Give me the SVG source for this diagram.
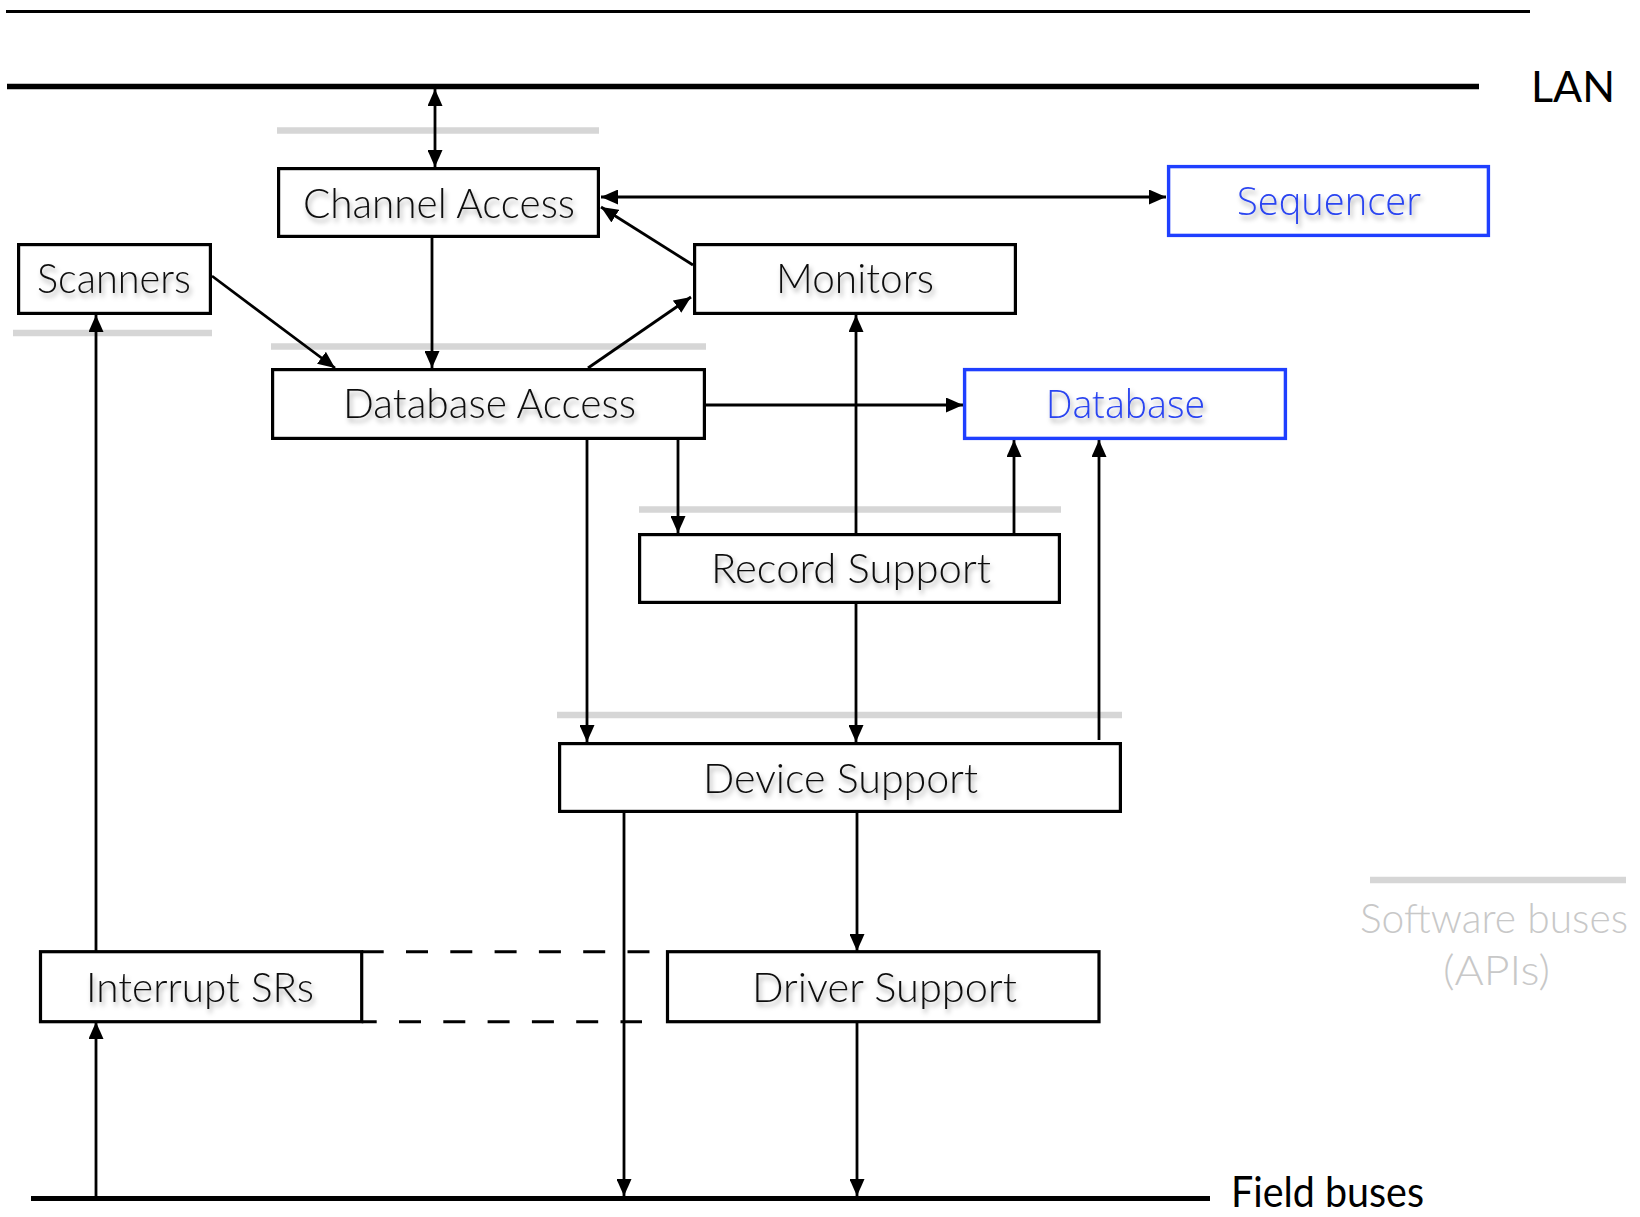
<svg xmlns="http://www.w3.org/2000/svg" width="1640" height="1217" viewBox="0 0 1640 1217">
<style>
.box{fill:#fff;stroke:#000;stroke-width:3.2}
.bbox{fill:#fff;stroke:#1f3fff;stroke-width:3.4}
.lbl{font-family:Lato,"Liberation Sans",sans-serif;font-weight:300;font-size:42px;fill:#111;filter:url(#sh)}
.blbl{font-family:"Open Sans","Noto Sans","Liberation Sans",sans-serif;font-weight:300;font-size:39px;fill:#2a44f0;filter:url(#sh)}
.plain{font-family:Lato,"Liberation Sans",sans-serif;font-size:42px;fill:#000}
.leg{font-family:Lato,"Liberation Sans",sans-serif;font-weight:300;font-size:42px;fill:#c8c8c8}
.bus{stroke:#d6d6d6;stroke-width:6.5;fill:none}
.c{stroke:#000;stroke-width:2.8;fill:none;marker-end:url(#ah)}
.cc{stroke:#000;stroke-width:2.8;fill:none;marker-end:url(#ah);marker-start:url(#ah)}
.dash{stroke:#000;stroke-width:3;fill:none;stroke-dasharray:22 22.3}
</style>
<defs>
<marker id="ah" markerUnits="userSpaceOnUse" markerWidth="17" markerHeight="15" refX="17" refY="7.5" orient="auto-start-reverse">
<path d="M0,0 L17,7.5 L0,15 z" fill="#000"/>
</marker>
<filter id="sh" x="-10%" y="-30%" width="120%" height="160%">
<feDropShadow dx="2" dy="4" stdDeviation="2.5" flood-color="#000" flood-opacity="0.35"/>
</filter>
</defs>
<rect width="1640" height="1217" fill="#fff"/>

<g id="buses">
<line x1="6" y1="11.5" x2="1530" y2="11.5" stroke="#000" stroke-width="3.2"/>
<line x1="7" y1="86.5" x2="1479" y2="86.5" stroke="#000" stroke-width="5.5"/>
<text class="plain" x="1531" y="102" textLength="84" lengthAdjust="spacingAndGlyphs">LAN</text>
<line x1="31" y1="1198.5" x2="1210" y2="1198.5" stroke="#000" stroke-width="5"/>
<text class="plain" x="1231" y="1207" font-size="40" textLength="193" lengthAdjust="spacingAndGlyphs">Field buses</text>
</g>

<g id="software-buses">
<line class="bus" x1="277" y1="130.5" x2="599" y2="130.5"/>
<line class="bus" x1="13" y1="333" x2="212" y2="333"/>
<line class="bus" x1="271" y1="346.5" x2="706" y2="346.5"/>
<line class="bus" x1="639" y1="509.5" x2="1061" y2="509.5"/>
<line class="bus" x1="557" y1="715" x2="1122" y2="715"/>
</g>

<g id="legend">
<line class="bus" x1="1370" y1="880" x2="1626" y2="880"/>
<text class="leg" x="1360" y="933" textLength="268" lengthAdjust="spacingAndGlyphs">Software buses</text>
<text class="leg" x="1443" y="985" textLength="107" lengthAdjust="spacingAndGlyphs">(APIs)</text>
</g>

<g id="connectors">
<path class="cc" d="M435,89 L435,167"/>
<path class="cc" d="M601,197 L1166,197"/>
<path class="c" d="M693,265 L601,207"/>
<path class="c" d="M212,276 L335,368"/>
<path class="c" d="M432,238 L432,368"/>
<path class="c" d="M588,368 L691,297"/>
<path class="c" d="M706,405 L963,405"/>
<path class="c" d="M678,440 L678,533"/>
<path class="c" d="M587,440 L587,742"/>
<path class="c" d="M856,533 L856,315"/>
<path class="c" d="M1014,533 L1014,440"/>
<path class="c" d="M1099,740 L1099,440"/>
<path class="c" d="M856,604 L856,742"/>
<path class="c" d="M624,813 L624,1196"/>
<path class="c" d="M857,813 L857,951"/>
<path class="c" d="M857,1022 L857,1196"/>
<path class="c" d="M96,1196 L96,1022"/>
<path class="c" d="M96,951 L96,315"/>
<path class="dash" d="M361.7,951.7 L650,951.7"/>
<path class="dash" d="M361.7,1021.7 L642,1021.7" stroke-dashoffset="7"/>
</g>

<g id="channel-access">
<rect class="box" x="278.6" y="168.6" width="319.8" height="67.8"/>
<text class="lbl" x="303" y="218" textLength="272" lengthAdjust="spacingAndGlyphs">Channel Access</text>
</g>
<g id="scanners">
<rect class="box" x="18.6" y="244.6" width="191.8" height="68.8"/>
<text class="lbl" x="37" y="293" textLength="154" lengthAdjust="spacingAndGlyphs">Scanners</text>
</g>
<g id="monitors">
<rect class="box" x="694.6" y="244.6" width="320.8" height="68.8"/>
<text class="lbl" x="776" y="293" textLength="158" lengthAdjust="spacingAndGlyphs">Monitors</text>
</g>
<g id="sequencer">
<rect class="bbox" x="1168.6" y="166.6" width="319.8" height="68.8"/>
<text class="blbl" x="1237" y="215" textLength="184" lengthAdjust="spacingAndGlyphs">Sequencer</text>
</g>
<g id="database-access">
<rect class="box" x="272.6" y="369.6" width="431.8" height="68.8"/>
<text class="lbl" x="343" y="418" textLength="293" lengthAdjust="spacingAndGlyphs">Database Access</text>
</g>
<g id="database">
<rect class="bbox" x="964.6" y="369.6" width="320.8" height="68.8"/>
<text class="blbl" x="1046" y="418" textLength="159" lengthAdjust="spacingAndGlyphs">Database</text>
</g>
<g id="record-support">
<rect class="box" x="639.6" y="534.6" width="419.8" height="67.8"/>
<text class="lbl" x="711" y="583" textLength="280" lengthAdjust="spacingAndGlyphs">Record Support</text>
</g>
<g id="device-support">
<rect class="box" x="559.6" y="743.6" width="560.8" height="67.8"/>
<text class="lbl" x="703" y="793" textLength="275" lengthAdjust="spacingAndGlyphs">Device Support</text>
</g>
<g id="interrupt-srs">
<rect class="box" x="40.5" y="951.7" width="321.2" height="70"/>
<text class="lbl" x="86" y="1002" textLength="228" lengthAdjust="spacingAndGlyphs">Interrupt SRs</text>
</g>
<g id="driver-support">
<rect class="box" x="667.5" y="951.7" width="431.5" height="70"/>
<text class="lbl" x="752" y="1002" textLength="265" lengthAdjust="spacingAndGlyphs">Driver Support</text>
</g>
</svg>
